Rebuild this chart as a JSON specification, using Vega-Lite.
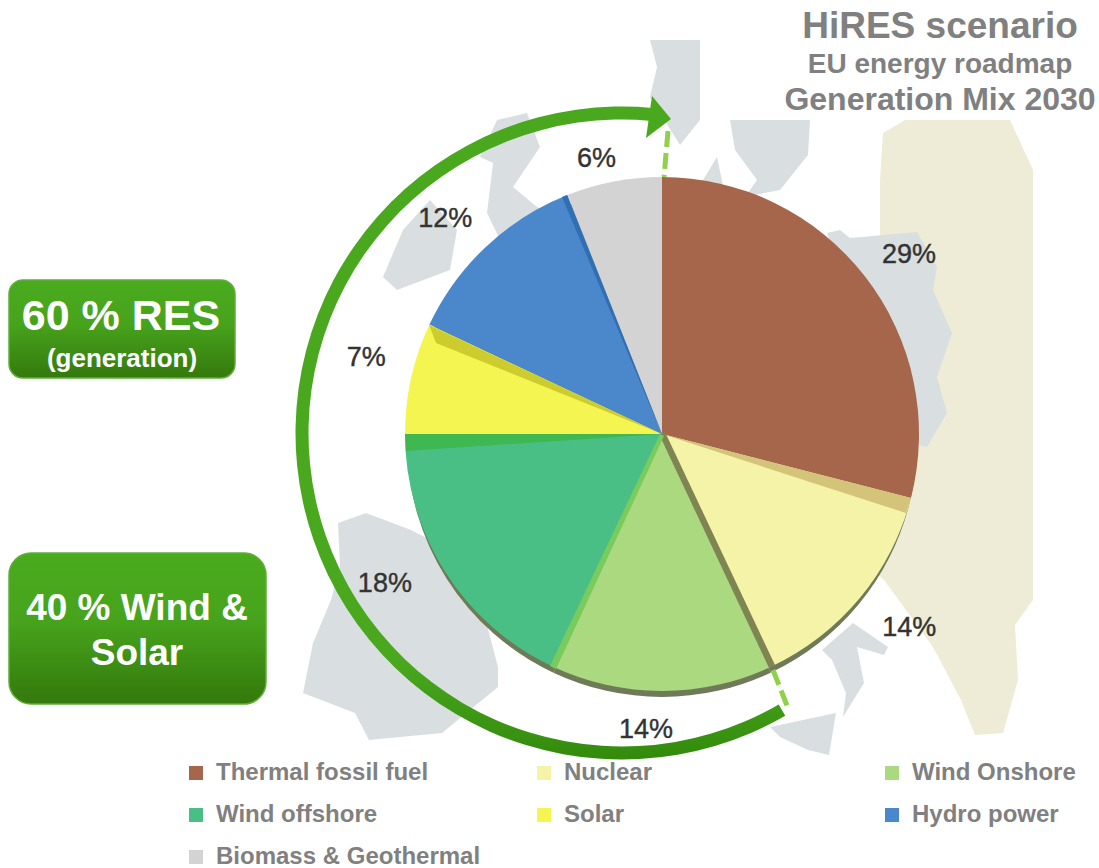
{"$schema":"https://vega.github.io/schema/vega-lite/v6.json","width":1099,"height":868,"autosize":{"type":"fit","contains":"padding"},"padding":0,"background":"#ffffff","view":{"stroke":null},
"datasets":{
"mix":[{"category":"Thermal fossil fuel","share":29,"pos":1},{"category":"Nuclear","share":14,"pos":2},{"category":"Wind Onshore","share":14,"pos":3},{"category":"Wind offshore","share":18,"pos":4},{"category":"Solar","share":7,"pos":5},{"category":"Hydro power","share":12,"pos":6},{"category":"Biomass & Geothermal","share":6,"pos":7}],
"map":[
{"type":"Feature","properties":{"kind":"cream"},"geometry":{"type":"Polygon","coordinates":[[[880,180],[883,133],[905,120],[1010,120],[1033,170],[1033,600],[1015,625],[1018,680],[1003,733],[975,735],[961,700],[933,647],[884,580],[850,550],[900,400],[880,250],[880,180]]]}},
{"type":"Feature","properties":{"kind":"land"},"geometry":{"type":"Polygon","coordinates":[[[827,233],[840,230],[850,238],[917,232],[937,267],[933,290],[952,333],[937,377],[947,413],[927,447],[900,440],[860,330],[827,233]]]}},
{"type":"Feature","properties":{"kind":"land"},"geometry":{"type":"Polygon","coordinates":[[[338,523],[366,513],[411,530],[470,560],[498,667],[498,687],[442,733],[369,740],[355,713],[303,693],[313,643],[331,600],[340,567],[338,523]]]}},
{"type":"Feature","properties":{"kind":"land"},"geometry":{"type":"Polygon","coordinates":[[[497,120],[527,113],[540,147],[513,187],[537,207],[560,215],[500,240],[487,213],[493,163],[480,157],[497,120]]]}},
{"type":"Feature","properties":{"kind":"land"},"geometry":{"type":"Polygon","coordinates":[[[430,200],[457,230],[450,270],[397,290],[383,277],[403,230],[430,200]]]}},
{"type":"Feature","properties":{"kind":"land"},"geometry":{"type":"Polygon","coordinates":[[[650,40],[700,40],[700,120],[680,145],[650,97],[657,67],[650,40]]]}},
{"type":"Feature","properties":{"kind":"land"},"geometry":{"type":"Polygon","coordinates":[[[730,120],[810,120],[808,155],[780,190],[745,197],[757,180],[735,150],[730,120]]]}},
{"type":"Feature","properties":{"kind":"land"},"geometry":{"type":"Polygon","coordinates":[[[717,157],[703,180],[690,190],[725,195],[717,157]]]}},
{"type":"Feature","properties":{"kind":"land"},"geometry":{"type":"Polygon","coordinates":[[[853,623],[888,647],[884,655],[857,647],[864,683],[843,717],[846,693],[832,660],[822,650],[853,623]]]}},
{"type":"Feature","properties":{"kind":"land"},"geometry":{"type":"Polygon","coordinates":[[[770,727],[836,713],[829,755],[808,750],[780,737],[770,727]]]}},
{"type":"Feature","properties":{"kind":"s1"},"geometry":{"type":"Polygon","coordinates":[[[662,434],[911,498],[906,513],[662,434]]]}},
{"type":"Feature","properties":{"kind":"s2"},"geometry":{"type":"Polygon","coordinates":[[[659,434],[769,668],[775,665],[665,432],[659,434]]]}},
{"type":"Feature","properties":{"kind":"s3"},"geometry":{"type":"Polygon","coordinates":[[[660,434],[550,666],[556,669],[664,436],[660,434]]]}},
{"type":"Feature","properties":{"kind":"s4"},"geometry":{"type":"Polygon","coordinates":[[[662,434],[405,434],[406,451],[662,434]]]}},
{"type":"Feature","properties":{"kind":"s5"},"geometry":{"type":"Polygon","coordinates":[[[662,434],[429,325],[436,343],[662,434]]]}},
{"type":"Feature","properties":{"kind":"s6"},"geometry":{"type":"Polygon","coordinates":[[[662,434],[567,195],[562,197],[662,434]]]}},
{"type":"Feature","properties":{"kind":"head"},"geometry":{"type":"Polygon","coordinates":[[[652,96],[671,119],[646,138],[652,96]]]}}
],
"ring":[{"name":"RES arrow"}],
"leaders":[{"x":668,"y":131,"x2":664,"y2":177},{"x":773,"y":670,"x2":788,"y2":708}],
"boxA":[{"x":9,"x2":235,"y":280,"y2":378}],
"boxB":[{"x":9,"x2":266,"y":553,"y2":704}]
},
"layer":[
{"data":{"name":"map"},"transform":[{"filter":"datum.properties.kind=='cream'"}],"mark":{"type":"geoshape","fill":"#eeecd7","stroke":null},"projection":{"type":"identity","scale":1,"translate":[0,0]}},
{"data":{"name":"map"},"transform":[{"filter":"datum.properties.kind=='land'"}],"mark":{"type":"geoshape","fill":"#d9dfe0","stroke":null},"projection":{"type":"identity","scale":1,"translate":[0,0]}},
{"data":{"name":"mix"},"mark":{"type":"arc","outerRadius":255,"fill":"#6f7a58"},"encoding":{"theta":{"field":"share","type":"quantitative","stack":true},"order":{"field":"pos"},"x":{"datum":662,"type":"quantitative","scale":{"domain":[0,1099],"nice":false,"zero":false},"axis":null},"y":{"datum":442,"type":"quantitative","scale":{"domain":[0,868],"reverse":true,"nice":false,"zero":false},"axis":null}}},
{"data":{"name":"mix"},"mark":{"type":"arc","outerRadius":257},"encoding":{"theta":{"field":"share","type":"quantitative","stack":true},"order":{"field":"pos"},"x":{"datum":662,"type":"quantitative"},"y":{"datum":434,"type":"quantitative"},
"color":{"field":"category","type":"nominal","scale":{"domain":["Thermal fossil fuel","Wind offshore","Hydro power","Nuclear","Solar","Biomass & Geothermal","Wind Onshore"],"range":["#a6664b","#49bf85","#4b87cb","#f5f3a8","#f5f552","#d3d3d3","#abd97f"]},
"legend":{"orient":"none","legendX":184,"legendY":761,"title":null,"columns":3,"gridAlign":"all","columnPadding":51,"rowPadding":18,"symbolType":"square","symbolSize":196,"symbolStrokeWidth":0,"labelOffset":8,"labelFont":"Liberation Sans","labelFontWeight":"bold","labelFontSize":24,"labelColor":"#808080","labelLimit":400,"padding":0}}}},
{"data":{"name":"map"},"transform":[{"filter":"datum.properties.kind=='s1'"}],"mark":{"type":"geoshape","fill":"#d3c47a","stroke":null},"projection":{"type":"identity","scale":1,"translate":[0,0]}},
{"data":{"name":"map"},"transform":[{"filter":"datum.properties.kind=='s2'"}],"mark":{"type":"geoshape","fill":"#7f8552","stroke":null},"projection":{"type":"identity","scale":1,"translate":[0,0]}},
{"data":{"name":"map"},"transform":[{"filter":"datum.properties.kind=='s3'"}],"mark":{"type":"geoshape","fill":"#7acb5e","stroke":null},"projection":{"type":"identity","scale":1,"translate":[0,0]}},
{"data":{"name":"map"},"transform":[{"filter":"datum.properties.kind=='s4'"}],"mark":{"type":"geoshape","fill":"#3fb852","stroke":null},"projection":{"type":"identity","scale":1,"translate":[0,0]}},
{"data":{"name":"map"},"transform":[{"filter":"datum.properties.kind=='s5'"}],"mark":{"type":"geoshape","fill":"#cccc2e","stroke":null},"projection":{"type":"identity","scale":1,"translate":[0,0]}},
{"data":{"name":"map"},"transform":[{"filter":"datum.properties.kind=='s6'"}],"mark":{"type":"geoshape","fill":"#2f6fb5","stroke":null},"projection":{"type":"identity","scale":1,"translate":[0,0]}},
{"data":{"name":"mix"},"mark":{"type":"text","font":"Liberation Sans","fontSize":27,"fill":"#333333","stroke":"#333333","strokeWidth":0.4,"radius":{"expr":"datum.pos==1?305:datum.pos==2?313:datum.pos==3?295:datum.pos==4?314:datum.pos==7?285:305"},"dx":{"expr":"datum.pos==1?6:datum.pos==2?6:datum.pos==3?-16:datum.pos==4?-12:datum.pos==5?2:datum.pos==6?-8:-12"},"dy":{"expr":"datum.pos==1?8:datum.pos==2?-6:datum.pos==3?1:datum.pos==4?-18:datum.pos==5?-9:datum.pos==6?7:5"}},"encoding":{"theta":{"field":"share","type":"quantitative","stack":true},"order":{"field":"pos"},"x":{"datum":662,"type":"quantitative"},"y":{"datum":434,"type":"quantitative"},"text":{"field":"label"}},"transform":[{"calculate":"datum.share+'%'","as":"label"}]},
{"data":{"name":"leaders"},"mark":{"type":"rule","stroke":"#8fd24a","strokeWidth":5,"strokeDash":[16,6]},"encoding":{"x":{"field":"x","type":"quantitative"},"y":{"field":"y","type":"quantitative"},"x2":{"field":"x2"},"y2":{"field":"y2"}}},
{"data":{"name":"ring"},"mark":{"type":"arc","innerRadius":313.5,"outerRadius":326.5,"theta":2.618,"theta2":6.377,"fill":{"gradient":"linear","x1":0,"y1":0,"x2":0,"y2":1,"stops":[{"offset":0,"color":"#49a81e"},{"offset":0.85,"color":"#49a81e"},{"offset":1,"color":"#338a0c"}]}},"encoding":{"x":{"datum":622,"type":"quantitative"},"y":{"datum":433,"type":"quantitative"}}},
{"data":{"name":"map"},"transform":[{"filter":"datum.properties.kind=='head'"}],"mark":{"type":"geoshape","fill":"#49a81e","stroke":null},"projection":{"type":"identity","scale":1,"translate":[0,0]}},
{"data":{"name":"boxA"},"mark":{"type":"rect","cornerRadius":14,"stroke":"#5fae3a","strokeWidth":1.5,"fill":{"gradient":"linear","x1":0,"y1":0,"x2":0,"y2":1,"stops":[{"offset":0,"color":"#4aab1e"},{"offset":0.45,"color":"#47a31c"},{"offset":1,"color":"#34790d"}]}},"encoding":{"x":{"field":"x","type":"quantitative"},"x2":{"field":"x2"},"y":{"field":"y","type":"quantitative"},"y2":{"field":"y2"}}},
{"data":{"name":"boxB"},"mark":{"type":"rect","cornerRadius":22,"stroke":"#5fae3a","strokeWidth":1.5,"fill":{"gradient":"linear","x1":0,"y1":0,"x2":0,"y2":1,"stops":[{"offset":0,"color":"#4aab1e"},{"offset":0.45,"color":"#47a31c"},{"offset":1,"color":"#34790d"}]}},"encoding":{"x":{"field":"x","type":"quantitative"},"x2":{"field":"x2"},"y":{"field":"y","type":"quantitative"},"y2":{"field":"y2"}}},
{"data":{"values":[{"t":"60 % RES","x":121,"y":317}]},"mark":{"type":"text","font":"Liberation Sans","fontWeight":"bold","fontSize":43,"fill":"#ffffff"},"encoding":{"x":{"field":"x","type":"quantitative"},"y":{"field":"y","type":"quantitative"},"text":{"field":"t"}}},
{"data":{"values":[{"t":"(generation)","x":122,"y":359}]},"mark":{"type":"text","font":"Liberation Sans","fontWeight":"bold","fontSize":26,"fill":"#ffffff"},"encoding":{"x":{"field":"x","type":"quantitative"},"y":{"field":"y","type":"quantitative"},"text":{"field":"t"}}},
{"data":{"values":[{"t":"40 % Wind &","x":137,"y":609},{"t":"Solar","x":137,"y":654}]},"mark":{"type":"text","font":"Liberation Sans","fontWeight":"bold","fontSize":37,"fill":"#ffffff"},"encoding":{"x":{"field":"x","type":"quantitative"},"y":{"field":"y","type":"quantitative"},"text":{"field":"t"}}},
{"data":{"values":[{"t":"HiRES scenario","x":940,"y":27}]},"mark":{"type":"text","font":"Liberation Sans","fontWeight":"bold","fontSize":37,"fill":"#808080"},"encoding":{"x":{"field":"x","type":"quantitative"},"y":{"field":"y","type":"quantitative"},"text":{"field":"t"}}},
{"data":{"values":[{"t":"EU energy roadmap","x":940,"y":65}]},"mark":{"type":"text","font":"Liberation Sans","fontWeight":"bold","fontSize":28,"fill":"#808080"},"encoding":{"x":{"field":"x","type":"quantitative"},"y":{"field":"y","type":"quantitative"},"text":{"field":"t"}}},
{"data":{"values":[{"t":"Generation Mix 2030","x":940,"y":100}]},"mark":{"type":"text","font":"Liberation Sans","fontWeight":"bold","fontSize":32,"fill":"#808080"},"encoding":{"x":{"field":"x","type":"quantitative"},"y":{"field":"y","type":"quantitative"},"text":{"field":"t"}}}
]}
